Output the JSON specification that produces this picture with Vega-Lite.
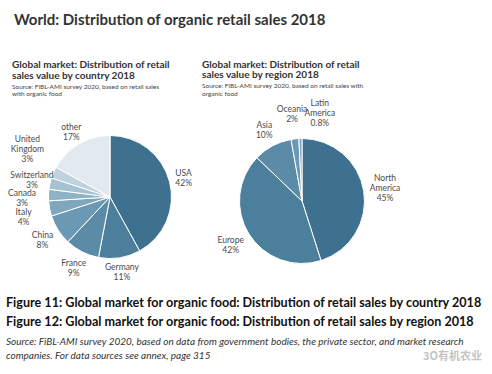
{
  "$schema": "https://vega.github.io/schema/vega-lite/v6.json",
  "padding": {"left": 6, "top": 12, "right": 4, "bottom": 4},
  "background": "white",
  "config": {
    "view": {"stroke": null},
    "font": "Lato",
    "title": {"anchor": "start", "frame": "group", "color": "#333333", "font": "Lato", "subtitleFont": "Lato", "subtitleColor": "#444444"},
    "text": {"font": "Lato", "fontSize": 8.5, "lineHeight": 10, "color": "#4a4a4a", "lineBreak": "|"}
  },
  "title": {"text": "World: Distribution of organic retail sales 2018", "fontSize": 15, "fontWeight": "bold", "dx": 8, "offset": 32},
  "spacing": 8,
  "vconcat": [
    {
      "spacing": -12,
      "hconcat": [
        {
          "width": 208,
          "height": 130,
          "title": {"text": ["Global market: Distribution of retail", "sales value by country 2018"], "subtitle": ["Source: FiBL-AMI survey 2020,  based on retail sales", "with organic food"], "fontSize": 10, "fontWeight": "bold", "lineHeight": 10.5, "subtitleFontSize": 6.5, "subtitleLineHeight": 7.5, "subtitlePadding": 3, "dx": 6, "offset": -4},
          "data": {"values": [
            {"country": "USA", "share": 42, "label": "USA|42%", "i": 1},
            {"country": "Germany", "share": 11, "label": "Germany|11%", "i": 2},
            {"country": "France", "share": 9, "label": "France|9%", "i": 3},
            {"country": "China", "share": 8, "label": "China|8%", "i": 4},
            {"country": "Italy", "share": 4, "label": "Italy|4%", "i": 5},
            {"country": "Canada", "share": 3, "label": "Canada|3%", "i": 6},
            {"country": "Switzerland", "share": 3, "label": "Switzerland|3%", "i": 7},
            {"country": "United Kingdom", "share": 3, "label": "United|Kingdom|3%", "i": 8},
            {"country": "other", "share": 17, "label": "other|17%", "i": 9}
          ]},
          "encoding": {
            "theta": {"field": "share", "type": "quantitative", "stack": true},
            "order": {"field": "i", "type": "quantitative"}
          },
          "layer": [
            {
              "mark": {"type": "arc", "outerRadius": 61.5, "stroke": "white", "strokeWidth": 1},
              "encoding": {
                "color": {"field": "country", "type": "nominal", "legend": null,
                  "scale": {"domain": ["USA", "Germany", "France", "China", "Italy", "Canada", "Switzerland", "United Kingdom", "other"],
                            "range": ["#3e7190", "#4b7f9c", "#5b8ba6", "#6b98b2", "#7ea6bd", "#8eb2c6", "#a5c2d3", "#bed3de", "#e2e9ef"]}}
              }
            },
            {
              "mark": {"type": "text", "radius": 76, "dy": -5},
              "encoding": {"text": {"condition": {"test": "indexof(['USA','Germany','other'], datum.country) >= 0", "field": "label"}, "value": ""}}
            },
            {
              "mark": {"type": "text", "radius": 80, "dy": -5},
              "encoding": {"text": {"condition": {"test": "indexof(['France','China','Switzerland'], datum.country) >= 0", "field": "label"}, "value": ""}}
            },
            {
              "mark": {"type": "text", "radius": 88, "dy": -1},
              "encoding": {"text": {"condition": {"test": "indexof(['Canada','Italy'], datum.country) >= 0", "field": "label"}, "value": ""}}
            },
            {
              "mark": {"type": "text", "radius": 90, "dy": -22},
              "encoding": {"text": {"condition": {"test": "datum.country === 'United Kingdom'", "field": "label"}, "value": ""}}
            }
          ]
        },
        {
          "width": 176,
          "height": 138,
          "title": {"text": ["Global market: Distribution of retail", "sales value by region 2018"], "subtitle": ["Source: FiBL-AMI survey 2020, based on retail sales with", "organic food"], "fontSize": 10, "fontWeight": "bold", "lineHeight": 10.5, "subtitleFontSize": 6.5, "subtitleLineHeight": 7.5, "subtitlePadding": 3, "dx": -12, "offset": 2},
          "data": {"values": [
            {"region": "North America", "share": 45, "label": "North|America|45%", "i": 1},
            {"region": "Europe", "share": 42, "label": "Europe|42%", "i": 2},
            {"region": "Asia", "share": 10, "label": "Asia|10%", "i": 3},
            {"region": "Oceania", "share": 2, "label": "Oceania|2%", "i": 4},
            {"region": "Latin America", "share": 0.8, "label": "Latin|America|0.8%", "i": 5}
          ]},
          "encoding": {
            "theta": {"field": "share", "type": "quantitative", "stack": true},
            "order": {"field": "i", "type": "quantitative"}
          },
          "layer": [
            {
              "mark": {"type": "arc", "outerRadius": 62.5, "stroke": "white", "strokeWidth": 1},
              "encoding": {
                "color": {"field": "region", "type": "nominal", "legend": null,
                  "scale": {"domain": ["North America", "Europe", "Asia", "Oceania", "Latin America"],
                            "range": ["#3e7190", "#5a8aa8", "#88abc0", "#bfd2de", "#dfe7ee"]}}
              }
            },
            {
              "mark": {"type": "text", "radius": 84, "dy": -10},
              "encoding": {"text": {"condition": {"test": "datum.region === 'North America'", "field": "label"}, "value": ""}}
            },
            {
              "mark": {"type": "text", "radius": 84, "dy": -5},
              "encoding": {"text": {"condition": {"test": "datum.region === 'Europe'", "field": "label"}, "value": ""}}
            },
            {
              "mark": {"type": "text", "radius": 80, "dy": -5},
              "encoding": {"text": {"condition": {"test": "datum.region === 'Asia'", "field": "label"}, "value": ""}}
            },
            {
              "mark": {"type": "text", "radius": 88, "dy": -5},
              "encoding": {"text": {"condition": {"test": "datum.region === 'Oceania'", "field": "label"}, "value": ""}}
            },
            {
              "mark": {"type": "text", "radius": 88, "dy": -10, "dx": 20},
              "encoding": {"text": {"condition": {"test": "datum.region === 'Latin America'", "field": "label"}, "value": ""}}
            }
          ]
        }
      ]
    },
    {
      "width": 476,
      "height": 1,
      "title": {"text": ["Figure 11: Global market for organic food: Distribution of retail sales by country 2018", "Figure 12: Global market for organic food: Distribution of retail sales by region 2018"], "subtitle": ["Source: FiBL-AMI survey 2020, based on data from government bodies, the private sector, and market research", "companies. For data sources see annex, page 315"], "fontSize": 12.6, "fontWeight": "bold", "lineHeight": 19, "color": "#111111", "subtitleFontSize": 10, "subtitleFontStyle": "italic", "subtitleLineHeight": 14, "subtitlePadding": 8, "subtitleColor": "#333333", "offset": -10},
      "data": {"values": [{"mark": "3O有机农业"}]},
      "mark": {"type": "text", "align": "right", "baseline": "bottom", "dy": -19, "font": "Noto Sans CJK SC", "fontSize": 11, "color": "#c4c4c4", "fontWeight": "bold"},
      "encoding": {"text": {"field": "mark", "type": "nominal"}, "x": {"value": "width"}}
    }
  ]
}
